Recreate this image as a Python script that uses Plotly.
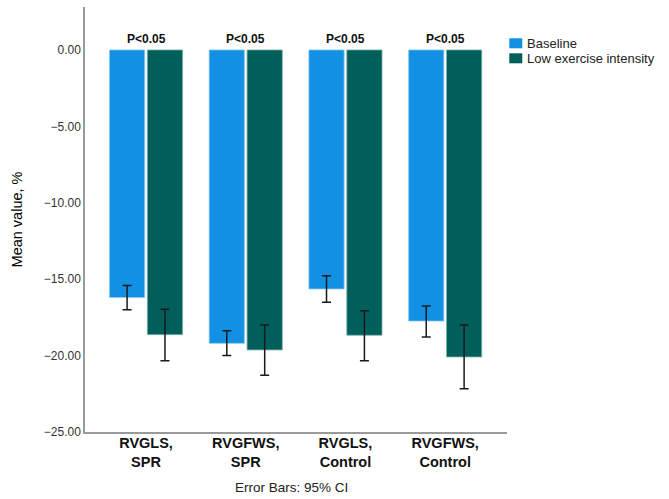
import plotly.graph_objects as go

# Categories and group means (%)
categories = ["RVGLS,<br>SPR", "RVGFWS,<br>SPR", "RVGLS,<br>Control", "RVGFWS,<br>Control"]
series_names = ["Baseline", "Low exercise intensity"]
baseline = [-16.20, -19.20, -15.64, -17.74]
low_exercise = [-18.63, -19.63, -18.67, -20.09]

# 95% confidence interval bounds
baseline_ci_upper = [-15.42, -18.37, -14.77, -16.75]
baseline_ci_lower = [-17.00, -20.00, -16.51, -18.78]
low_ci_upper = [-16.97, -18.00, -17.06, -18.00]
low_ci_lower = [-20.33, -21.29, -20.33, -22.17]

significance = ["P<0.05", "P<0.05", "P<0.05", "P<0.05"]
y_ticks = [0, -5, -10, -15, -20, -25]

FONT = "Liberation Sans, Arial, sans-serif"
COLORS = ["#1290e4", "#015f5b"]
EDGES = ["#8cc8f0", "#7fb0ad"]
x_pos = list(range(len(categories)))

# plot-area geometry in pixels (used to place the key beside the axes)
W, H = 669, 499
ML, MR, MT, MB = 85, 162, 7, 67
PW, PH = W - ML - MR, H - MT - MB


def px_x(p):
    return (p - ML) / PW


def px_y(p):
    return (H - MB - p) / PH


def err(values, upper, lower):
    return dict(
        type="data",
        symmetric=False,
        array=[u - v for u, v in zip(upper, values)],
        arrayminus=[v - l for v, l in zip(values, lower)],
        color="#1a1a1a",
        thickness=1.5,
        width=4.5,
    )


fig = go.Figure()
for name, vals, up, lo, col, edge in zip(
    series_names,
    [baseline, low_exercise],
    [baseline_ci_upper, low_ci_upper],
    [baseline_ci_lower, low_ci_lower],
    COLORS, EDGES,
):
    fig.add_trace(go.Bar(
        x=x_pos, y=vals, name=name, showlegend=False,
        marker=dict(color=col, line=dict(color=edge, width=0.8)),
        error_y=err(vals, up, lo),
    ))

# significance labels above each group
for xi, label in zip(x_pos, significance):
    fig.add_annotation(
        x=xi, y=0, yref="y", text=f"<b>{label}</b>", showarrow=False,
        yanchor="bottom", yshift=2, font=dict(family=FONT, size=12, color="#111111"),
    )

# key: coloured squares with series names
for i, (name, col) in enumerate(zip(series_names, COLORS)):
    top = 38.3 + 15 * i
    fig.add_shape(
        type="rect", xref="paper", yref="paper",
        x0=px_x(509.3), x1=px_x(522.3), y0=px_y(top + 10), y1=px_y(top),
        fillcolor=col, line=dict(width=0),
    )
    fig.add_annotation(
        x=px_x(525), xref="paper", y=px_y(top + 5.5), yref="paper",
        text=name, showarrow=False, xanchor="left", yanchor="middle",
        font=dict(family=FONT, size=13, color="#222222"),
    )

fig.add_annotation(
    x=px_x(291), xref="paper", y=px_y(487), yref="paper", text="Error Bars: 95% CI",
    showarrow=False, yanchor="middle", xanchor="center",
    font=dict(family=FONT, size=13.5, color="#222222"),
)

fig.update_layout(
    width=W, height=H,
    margin=dict(l=ML, r=MR, t=MT, b=MB, autoexpand=False),
    paper_bgcolor="white", plot_bgcolor="white",
    barmode="group", bargap=0.24, bargroupgap=0.07,
    font=dict(family=FONT, size=12, color="#333333"),
    showlegend=False,
    xaxis=dict(
        tickmode="array", tickvals=x_pos,
        ticktext=[f"<b>{c}</b>" for c in categories],
        range=[-0.612, 3.62], showline=True, linecolor="#9a9a9a", linewidth=1.5,
        ticks="", showgrid=False, zeroline=False, ticklabelstandoff=-3,
        tickfont=dict(family=FONT, size=14.5, color="#111111"),
    ),
    yaxis=dict(
        range=[-25, 2.81], tickmode="array", tickvals=y_ticks, tickformat=".2f",
        showline=True, linecolor="#9a9a9a", linewidth=1.5, ticks="",
        showgrid=False, zeroline=False,
        tickfont=dict(family=FONT, size=12, color="#333333"),
        title=dict(text="Mean value, %", font=dict(family=FONT, size=14.5, color="#000000"), standoff=18),
    ),
)

fig.write_html("out.html")
